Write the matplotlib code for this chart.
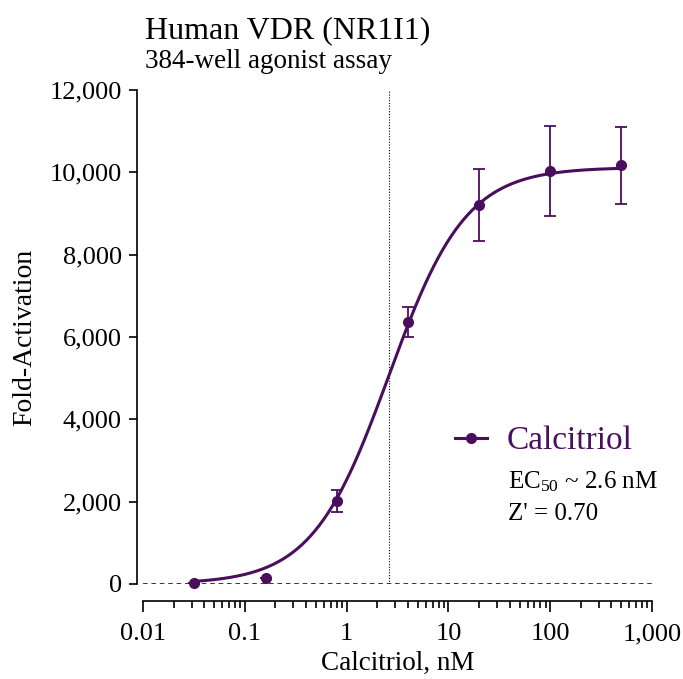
import numpy as np
import matplotlib
matplotlib.use("Agg")
import matplotlib.pyplot as plt
from matplotlib.lines import Line2D
from matplotlib.ticker import FuncFormatter, LogLocator

# ================= DATA =================
conc_nM = [0.032, 0.16, 0.8, 4, 20, 100, 500]
fold_act = [20, 150, 2010, 6360, 9200, 10030, 10170]
fold_err = [0, 0, 270, 360, 880, 1100, 940]

# 4PL fit parameters
ec50 = 2.6
hill = 1.15
bottom = 0
top = 10120
z_prime = 0.70

y_ticks = [0, 2000, 4000, 6000, 8000, 10000, 12000]
x_ticks = [0.01, 0.1, 1, 10, 100, 1000]

PURPLE = "#4a0f5c"

# ================= STYLE =================
plt.rcParams['font.family'] = ['Liberation Serif', 'DejaVu Serif']
plt.rcParams['mathtext.fontset'] = 'custom'
plt.rcParams['mathtext.rm'] = 'Liberation Serif'
plt.rcParams['mathtext.it'] = 'Liberation Serif:italic'

fig = plt.figure(figsize=(6.83, 6.79), dpi=100)
ax = fig.add_axes([143 / 683, 1 - 584 / 679, 509 / 683, 494 / 679])

# fitted curve
xfit = np.logspace(np.log10(conc_nM[0]), np.log10(conc_nM[-1]), 400)
yfit = bottom + (top - bottom) / (1 + (ec50 / xfit) ** hill)
ax.plot(xfit, yfit, color=PURPLE, lw=2.2, zorder=3, clip_on=False)

ax.errorbar(conc_nM, fold_act, yerr=fold_err, fmt='o', color=PURPLE,
            ms=7, capsize=4.5, elinewidth=1.3, capthick=1.3, zorder=4,
            clip_on=False)

# reference lines
ax.axhline(0, color='black', ls=(0, (3, 2.5)), lw=1.1, zorder=2)
ax.axvline(ec50, color='black', ls=(0, (1, 1.5)), lw=0.8, zorder=1)

ax.set_xscale('log')
ax.set_xlim(0.01, 1000)
ax.set_ylim(0, 12000)
ax.set_xticks(x_ticks)
ax.xaxis.set_minor_locator(LogLocator(base=10, subs=np.arange(2, 10)))
ax.set_yticks(y_ticks)


def fmt_x(v, pos):
    if v >= 1:
        return f"{v:,.0f}"
    return f"{v:g}"


ax.xaxis.set_major_formatter(FuncFormatter(fmt_x))
ax.yaxis.set_major_formatter(FuncFormatter(lambda v, p: f"{v:,.0f}"))

for s in ['top', 'right']:
    ax.spines[s].set_visible(False)
ax.spines['left'].set_position(('outward', 4.3))
ax.spines['bottom'].set_position(('outward', 12.2))
ax.spines['left'].set_linewidth(1.2)
ax.spines['bottom'].set_linewidth(1.2)

ax.tick_params(axis='both', which='major', labelsize=19, width=1.2)
ax.tick_params(axis='y', which='major', length=6, pad=5)
ax.tick_params(axis='x', which='major', length=8, pad=8)
ax.tick_params(axis='x', which='minor', length=5, width=1.2)

ax.set_xlabel("Calcitriol, nM", fontsize=19.5, labelpad=4)
ax.set_ylabel("Fold-Activation", fontsize=20, labelpad=9)

# titles
fig.text(145 / 683, 1 - 38 / 679, "Human VDR (NR1I1)", fontsize=23,
         ha='left', va='baseline')
fig.text(145 / 683, 1 - 68 / 679, "384-well agonist assay", fontsize=19.5,
         ha='left', va='baseline')

# legend
handle = Line2D([], [], color=PURPLE, lw=2.2, marker='o', ms=7)
ax.legend([handle], ["Calcitriol"], loc='center left',
          bbox_to_anchor=(0.613, 0.289), frameon=False, fontsize=24,
          labelcolor=PURPLE, handlelength=0.95, handletextpad=0.6,
          borderaxespad=0, borderpad=0)
ax.text(0.717, 0.194, r"EC$_{50}$ ~ 2.6 nM", transform=ax.transAxes,
        fontsize=18, ha='left', va='baseline')
ax.text(0.717, 0.13, f"Z' = {z_prime:.2f}", transform=ax.transAxes,
        fontsize=18, ha='left', va='baseline')

fig.savefig("out.png", dpi=100)
